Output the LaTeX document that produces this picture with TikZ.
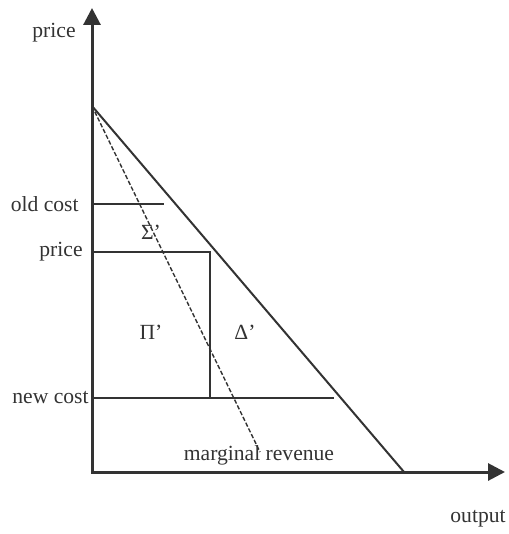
\documentclass[tikz,border=0pt]{standalone}
\usepackage{fontspec}
\setmainfont{Liberation Serif}
\usetikzlibrary{arrows.meta,positioning}
\colorlet{plot-ink}{black!80}
\tikzset{
  plot-axis/.style={draw=plot-ink, line width=1.5pt,
    {Triangle[length=8.5pt,width=8.5pt]}-{Triangle[length=8.5pt,width=8.5pt]}},
  plot-line/.style={draw=plot-ink, line width=1pt},
  plot-mr/.style={draw=plot-ink, line width=0.7pt, dash pattern=on 2.2pt off 1pt},
  plot-label/.style={font=\fontsize{10.8}{13}\selectfont, text=plot-ink, inner sep=1pt}
}

\begin{document}
\begin{tikzpicture}[x=0.5pt, y=-0.5pt]
  \useasboundingbox (0,0) rectangle (508,534);

  % Axes
  \coordinate (o) at (92,472);
  \coordinate (ytop) at (92,8);
  \coordinate (xend) at (505,472);
  \draw[plot-axis] (ytop) -- (o) -- (xend);
  \node[plot-label, anchor=east] (ylab) at (78,33) {price};
  \node[plot-label] (xlab) at (478,519) {output};

  % Demand and marginal revenue
  \coordinate (dtop) at (92,106);
  \coordinate (dbot) at (404,472);
  \coordinate (mrend) at (260,452);
  \draw[plot-line] (dtop) -- (dbot);
  \draw[plot-mr] (dtop) -- (mrend);
  \node[plot-label] (mrlab) at (259,455) {marginal revenue};

  % Cost and price levels
  \coordinate (oc0) at (92,204);
  \coordinate (oc1) at (164,204);
  \coordinate (pr0) at (92,252);
  \coordinate (pr1) at (210,252);
  \coordinate (nc0) at (92,398);
  \coordinate (nc1) at (334,398);
  \coordinate (prq) at (210,398);
  \draw[plot-line] (oc0) -- (oc1);
  \draw[plot-line] (pr0) -- (pr1) -- (prq);
  \draw[plot-line] (nc0) -- (nc1);
  \node[plot-label, anchor=east] (oclab) at (81,204) {old cost};
  \node[plot-label, anchor=east] (prlab) at (85,252) {price};
  \node[plot-label, anchor=east] (nclab) at (91,398) {new cost};

  % Areas
  \node[plot-label] (sigma) at (151,232) {Σ’};
  \node[plot-label] (pi) at (151,332) {Π’};
  \node[plot-label] (delta) at (245,332) {Δ’};
\end{tikzpicture}
\end{document}
